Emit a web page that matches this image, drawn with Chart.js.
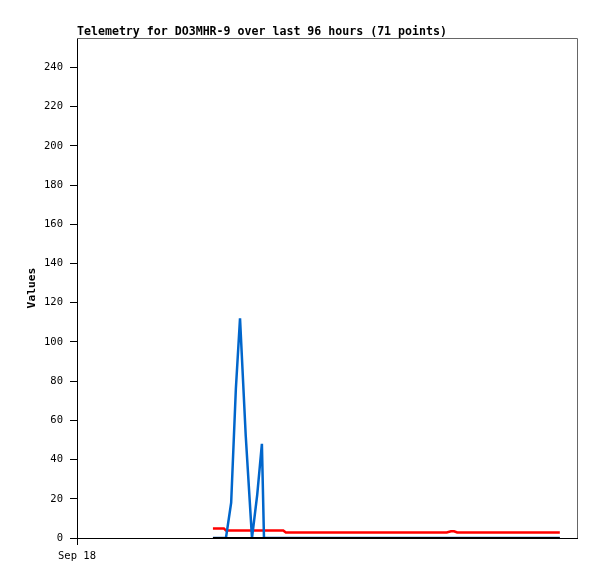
<!DOCTYPE html>
<html>
<head>
<meta charset="utf-8">
<script src="https://cdn.jsdelivr.net/npm/chart.js@4"></script>
<style>
  body { margin: 0; background: #fff; }
  canvas { display: block; }
</style>
</head>
<body>
<canvas id="telemetryChart" width="597" height="579"></canvas>
<script>
const chartTitle = "Telemetry for DO3MHR-9 over last 96 hours (71 points)";
const xTickLabels = ["Sep 18"];
const yTickValues = [0, 20, 40, 60, 80, 100, 120, 140, 160, 180, 200, 220, 240];

// hours since the left edge of the chart
const hours = [
  26.1, 27.1, 28.2, 28.6, 29.6, 30.5, 31.3, 32.4, 33.6, 34.6, 35.5, 35.9,
  36.8, 37.8, 38.7, 39.6, 40.1,
  41.1, 42.0, 43.0, 44.0, 44.9, 45.9, 46.9, 47.8, 48.8, 49.8, 50.7, 51.7,
  52.7, 53.6, 54.6, 55.6, 56.5, 57.5, 58.5, 59.4, 60.4, 61.4, 62.3, 63.3,
  64.3, 65.2, 66.2, 67.2, 68.1, 69.1, 70.1, 71.0,
  71.8, 72.4, 73.0,
  74.0, 75.1, 76.1, 77.2, 78.2, 79.3, 80.3, 81.4, 82.4, 83.5, 84.5, 85.5,
  86.6, 87.6, 88.7, 89.7, 90.7, 91.7, 92.7
];

const blueValues = [
  0, 0, 0, 0, 18, 76, 112, 52, 0, 22, 48, 0,
  0, 0, 0, 0, 0,
  0, 0, 0, 0, 0, 0, 0, 0, 0, 0, 0, 0,
  0, 0, 0, 0, 0, 0, 0, 0, 0, 0, 0, 0,
  0, 0, 0, 0, 0, 0, 0, 0,
  0, 0, 0,
  0, 0, 0, 0, 0, 0, 0, 0, 0, 0, 0, 0,
  0, 0, 0, 0, 0, 0, 0
];

const redValues = [
  4.9, 4.9, 4.9, 3.8, 3.8, 3.8, 3.8, 3.8, 3.8, 3.8, 3.8, 3.8,
  3.8, 3.8, 3.8, 3.8, 2.8,
  2.8, 2.8, 2.8, 2.8, 2.8, 2.8, 2.8, 2.8, 2.8, 2.8, 2.8, 2.8,
  2.8, 2.8, 2.8, 2.8, 2.8, 2.8, 2.8, 2.8, 2.8, 2.8, 2.8, 2.8,
  2.8, 2.8, 2.8, 2.8, 2.8, 2.8, 2.8, 2.8,
  3.4, 3.4, 2.8,
  2.8, 2.8, 2.8, 2.8, 2.8, 2.8, 2.8, 2.8, 2.8, 2.8, 2.8, 2.8,
  2.8, 2.8, 2.8, 2.8, 2.8, 2.8, 2.8
];

const blackValues = [
  0, 0, 0, 0, 0, 0, 0, 0, 0, 0, 0, 0,
  0, 0, 0, 0, 0,
  0, 0, 0, 0, 0, 0, 0, 0, 0, 0, 0, 0,
  0, 0, 0, 0, 0, 0, 0, 0, 0, 0, 0, 0,
  0, 0, 0, 0, 0, 0, 0, 0,
  0, 0, 0,
  0, 0, 0, 0, 0, 0, 0, 0, 0, 0, 0, 0,
  0, 0, 0, 0, 0, 0, 0
];

function toPoints(values) {
  return values.map((v, i) => ({ x: hours[i], y: v }));
}

const monoFont = "'DejaVu Sans Mono', 'Liberation Mono', monospace";

// frame on top/right plus the title text
const framePlugin = {
  id: 'frame',
  afterDraw(chart) {
    const { ctx, chartArea } = chart;
    ctx.save();
    ctx.strokeStyle = '#666';
    ctx.lineWidth = 1;
    ctx.beginPath();
    ctx.moveTo(chartArea.left, chartArea.top + 0.5);
    ctx.lineTo(chartArea.right + 0.5, chartArea.top + 0.5);
    ctx.lineTo(chartArea.right + 0.5, chartArea.bottom);
    ctx.stroke();
    ctx.fillStyle = '#000';
    ctx.font = "bold 11.6px " + monoFont;
    ctx.textBaseline = 'alphabetic';
    ctx.fillText(chartTitle, chartArea.left, 35);
    ctx.restore();
  }
};

new Chart(document.getElementById('telemetryChart'), {
  type: 'line',
  data: {
    datasets: [
      {
        label: 'black',
        data: toPoints(blackValues),
        borderColor: '#000000',
        borderWidth: 2,
        pointRadius: 0,
        order: 0
      },
      {
        label: 'blue',
        data: toPoints(blueValues),
        borderColor: '#0066cc',
        borderWidth: 2.5,
        pointRadius: 0,
        order: 1
      },
      {
        label: 'red',
        data: toPoints(redValues),
        borderColor: '#ff0000',
        borderWidth: 2.5,
        pointRadius: 0,
        order: 2
      }
    ]
  },
  options: {
    responsive: false,
    animation: false,
    layout: { padding: { top: 38, right: 20, left: 0, bottom: 0 } },
    plugins: {
      legend: { display: false },
      tooltip: { enabled: false }
    },
    scales: {
      x: {
        type: 'linear',
        min: 0,
        max: 96,
        afterBuildTicks(scale) {
          scale.ticks = [{ value: 0 }];
        },
        afterFit(scale) {
          scale.height = 41;
        },
        ticks: {
          callback: (v, i) => xTickLabels[i],
          color: '#000',
          font: { family: monoFont, size: 10.5 },
          maxRotation: 0,
          autoSkip: false,
          padding: 5
        },
        grid: {
          drawOnChartArea: false,
          tickLength: 7,
          color: '#000'
        },
        border: { color: '#000', width: 1 }
      },
      y: {
        min: 0,
        max: 255,
        afterBuildTicks(scale) {
          scale.ticks = yTickValues.map(v => ({ value: v }));
        },
        afterFit(scale) {
          scale.width = 77;
        },
        ticks: {
          color: '#000',
          font: { family: monoFont, size: 10.5 },
          padding: 7
        },
        grid: {
          drawOnChartArea: false,
          tickLength: 7,
          color: '#000'
        },
        border: { color: '#000', width: 1 },
        title: {
          display: true,
          text: 'Values',
          color: '#000',
          font: { family: monoFont, size: 11.3, weight: 'bold' },
          padding: { top: 25, bottom: 0 }
        }
      }
    }
  },
  plugins: [framePlugin]
});
</script>
</body>
</html>
